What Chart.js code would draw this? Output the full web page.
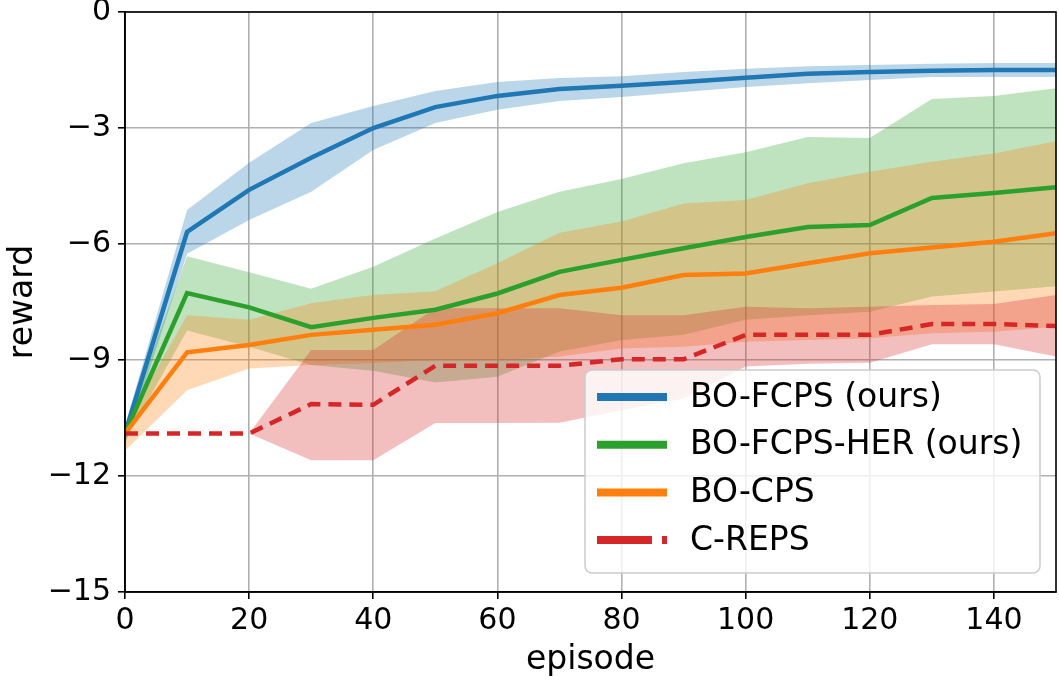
<!DOCTYPE html>
<html>
<head>
<meta charset="utf-8">
<script src="https://cdn.jsdelivr.net/npm/chart.js@4.4.1/dist/chart.umd.min.js"></script>
<style>
  html, body { margin: 0; padding: 0; background: #fff; }
  #wrap { width: 1059px; height: 680px; }
</style>
</head>
<body>
<div id="wrap"><canvas id="rewardChart" width="1059" height="680"></canvas></div>
<script>
// episodes on the x axis
const episodes = [0, 10, 20, 30, 40, 50, 60, 70, 80, 90, 100, 110, 120, 130, 140, 150];

// BO-FCPS (ours)
const fcpsMean  = [-10.9, -5.69, -4.60, -3.77, -3.00, -2.46, -2.17, -1.99, -1.91, -1.81, -1.70, -1.60, -1.55, -1.52, -1.50, -1.50];
const fcpsUpper = [-10.7, -5.12, -3.90, -2.87, -2.43, -2.04, -1.81, -1.71, -1.66, -1.55, -1.47, -1.40, -1.37, -1.34, -1.32, -1.32];
const fcpsLower = [-11.2, -6.25, -5.38, -4.65, -3.57, -2.87, -2.53, -2.30, -2.20, -2.07, -1.94, -1.84, -1.76, -1.68, -1.68, -1.68];

// BO-FCPS-HER (ours)
const herMean  = [-10.9, -7.27, -7.64, -8.15, -7.91, -7.70, -7.28, -6.72, -6.41, -6.11, -5.82, -5.56, -5.51, -4.81, -4.68, -4.53];
const herUpper = [-10.75, -6.32, -6.73, -7.16, -6.59, -5.86, -5.17, -4.65, -4.32, -3.91, -3.63, -3.23, -3.26, -2.25, -2.17, -1.97];
const herLower = [-11.1, -8.24, -8.66, -9.13, -9.28, -9.58, -9.43, -8.78, -8.48, -8.35, -7.96, -7.84, -7.75, -7.36, -7.23, -7.09];

// BO-CPS
const cpsMean  = [-10.9, -8.80, -8.61, -8.35, -8.22, -8.09, -7.79, -7.32, -7.13, -6.80, -6.76, -6.50, -6.24, -6.09, -5.94, -5.72];
const cpsUpper = [-10.7, -7.84, -7.96, -7.53, -7.32, -7.22, -6.50, -5.71, -5.42, -4.95, -4.86, -4.43, -4.13, -3.87, -3.66, -3.34];
const cpsLower = [-11.35, -9.78, -9.22, -9.13, -9.08, -9.00, -9.00, -8.91, -8.70, -8.66, -8.53, -8.48, -8.44, -8.31, -8.27, -8.14];

// C-REPS
const crepsMean  = [-10.9, -10.9, -10.9, -10.14, -10.16, -9.15, -9.15, -9.15, -8.98, -8.98, -8.35, -8.35, -8.35, -8.07, -8.07, -8.12];
const crepsUpper = [-10.9, -10.9, -10.9, -8.74, -8.74, -7.66, -7.66, -7.66, -7.84, -7.84, -7.62, -7.66, -7.62, -7.58, -7.55, -7.32];
const crepsLower = [-10.9, -10.9, -10.9, -11.59, -11.59, -10.63, -10.63, -10.62, -10.30, -10.00, -9.17, -9.10, -9.07, -8.59, -8.59, -8.91];

const yTicks = [-15, -12, -9, -6, -3, 0];

const series = [
    { label: 'BO-FCPS (ours)',     color: '#1f77b4', fill: 'rgba(31,119,180,0.3)',  mean: fcpsMean,  upper: fcpsUpper,  lower: fcpsLower,  dash: [] },
    { label: 'BO-FCPS-HER (ours)', color: '#2ca02c', fill: 'rgba(44,160,44,0.3)',   mean: herMean,   upper: herUpper,   lower: herLower,   dash: [] },
    { label: 'BO-CPS',             color: '#ff7f0e', fill: 'rgba(255,127,14,0.3)',  mean: cpsMean,   upper: cpsUpper,   lower: cpsLower,   dash: [] },
    { label: 'C-REPS',             color: '#d62728', fill: 'rgba(214,39,40,0.3)',   mean: crepsMean, upper: crepsUpper, lower: crepsLower, dash: [13, 8] }
];

function toPoints(ys) {
    return episodes.map((x, i) => ({ x: x, y: ys[i] }));
}

// bands first (upper + lower filled to previous), then the mean lines on top
const datasets = [];
series.forEach((s, i) => {
    datasets.push({ label: s.label + ' upper', data: toPoints(s.upper), borderWidth: 0, pointRadius: 0, fill: false, order: 20 - i });
    datasets.push({ label: s.label + ' lower', data: toPoints(s.lower), borderWidth: 0, pointRadius: 0, backgroundColor: s.fill, fill: '-1', order: 20 - i });
});
series.forEach((s, i) => {
    datasets.push({ label: s.label, data: toPoints(s.mean), borderColor: s.color, borderWidth: 4.5, borderDash: s.dash, pointRadius: 0, fill: false, order: 10 - i });
});

// black frame round the plot area (matplotlib spines)
const framePlugin = {
    id: 'frame',
    afterDraw(chart) {
        const a = chart.chartArea, ctx = chart.ctx;
        ctx.save();
        ctx.strokeStyle = '#000';
        ctx.lineWidth = 1.6;
        ctx.strokeRect(a.left, a.top, a.right - a.left, a.bottom - a.top);
        ctx.restore();
    }
};

// legend box in the lower right, drawn inside the plot
const legendPlugin = {
    id: 'boxLegend',
    afterDraw(chart) {
        const ctx = chart.ctx;
        const x0 = 585, y0 = 370, w = 455, h = 203, r = 7;
        ctx.save();
        ctx.beginPath();
        ctx.roundRect(x0, y0, w, h, r);
        ctx.fillStyle = 'rgba(255,255,255,0.8)';
        ctx.fill();
        ctx.strokeStyle = '#cccccc';
        ctx.lineWidth = 1.5;
        ctx.stroke();
        ctx.font = '33px "DejaVu Sans"';
        ctx.textBaseline = 'middle';
        ctx.textAlign = 'left';
        series.forEach((s, i) => {
            const yy = y0 + 27 + i * 47.7;
            ctx.beginPath();
            ctx.strokeStyle = s.color;
            ctx.lineWidth = 8;
            ctx.lineCap = 'butt';
            ctx.setLineDash(s.dash.length ? [55, 10] : []);
            ctx.moveTo(597, yy);
            ctx.lineTo(667, yy);
            ctx.stroke();
            ctx.setLineDash([]);
            ctx.fillStyle = '#000';
            ctx.fillText(s.label, 690, yy + 1);
        });
        ctx.restore();
    }
};

Chart.defaults.font.family = '"DejaVu Sans", sans-serif';
Chart.defaults.color = '#000';

const ctx = document.getElementById('rewardChart').getContext('2d');
const rewardChart = new Chart(ctx, {
    type: 'line',
    data: { datasets: datasets },
    options: {
        responsive: false,
        animation: false,
        layout: { padding: { top: 12, right: 3, left: 0, bottom: 0 } },
        plugins: { legend: { display: false }, tooltip: { enabled: false } },
        scales: {
            x: {
                type: 'linear',
                min: 0,
                max: 150,
                afterFit: s => { s.height = 88; s.paddingLeft = 0; s.paddingRight = 0; },
                ticks: { stepSize: 20, includeBounds: false, padding: 4, font: { size: 30 }, callback: v => String(v) },
                grid: { color: '#b0b0b0', lineWidth: 1.6, tickColor: '#000', tickLength: 7 },
                border: { color: '#000', width: 1.6 },
                title: { display: true, text: 'episode', font: { size: 33 }, padding: { top: 0, bottom: 0 } }
            },
            y: {
                type: 'linear',
                min: -15,
                max: 0,
                afterFit: s => { s.width = 125; s.paddingTop = 0; s.paddingBottom = 0; },
                afterBuildTicks: s => { s.ticks = yTicks.map(v => ({ value: v })); },
                ticks: { padding: 7, font: { size: 30 }, callback: v => String(v).replace('-', '\u2212') },
                grid: { color: '#b0b0b0', lineWidth: 1.6, tickColor: '#000', tickLength: 7 },
                border: { color: '#000', width: 1.6 },
                title: { display: true, text: 'reward', font: { size: 33 }, padding: { top: 4, bottom: 0 } }
            }
        }
    },
    plugins: [framePlugin, legendPlugin]
});
</script>
</body>
</html>
